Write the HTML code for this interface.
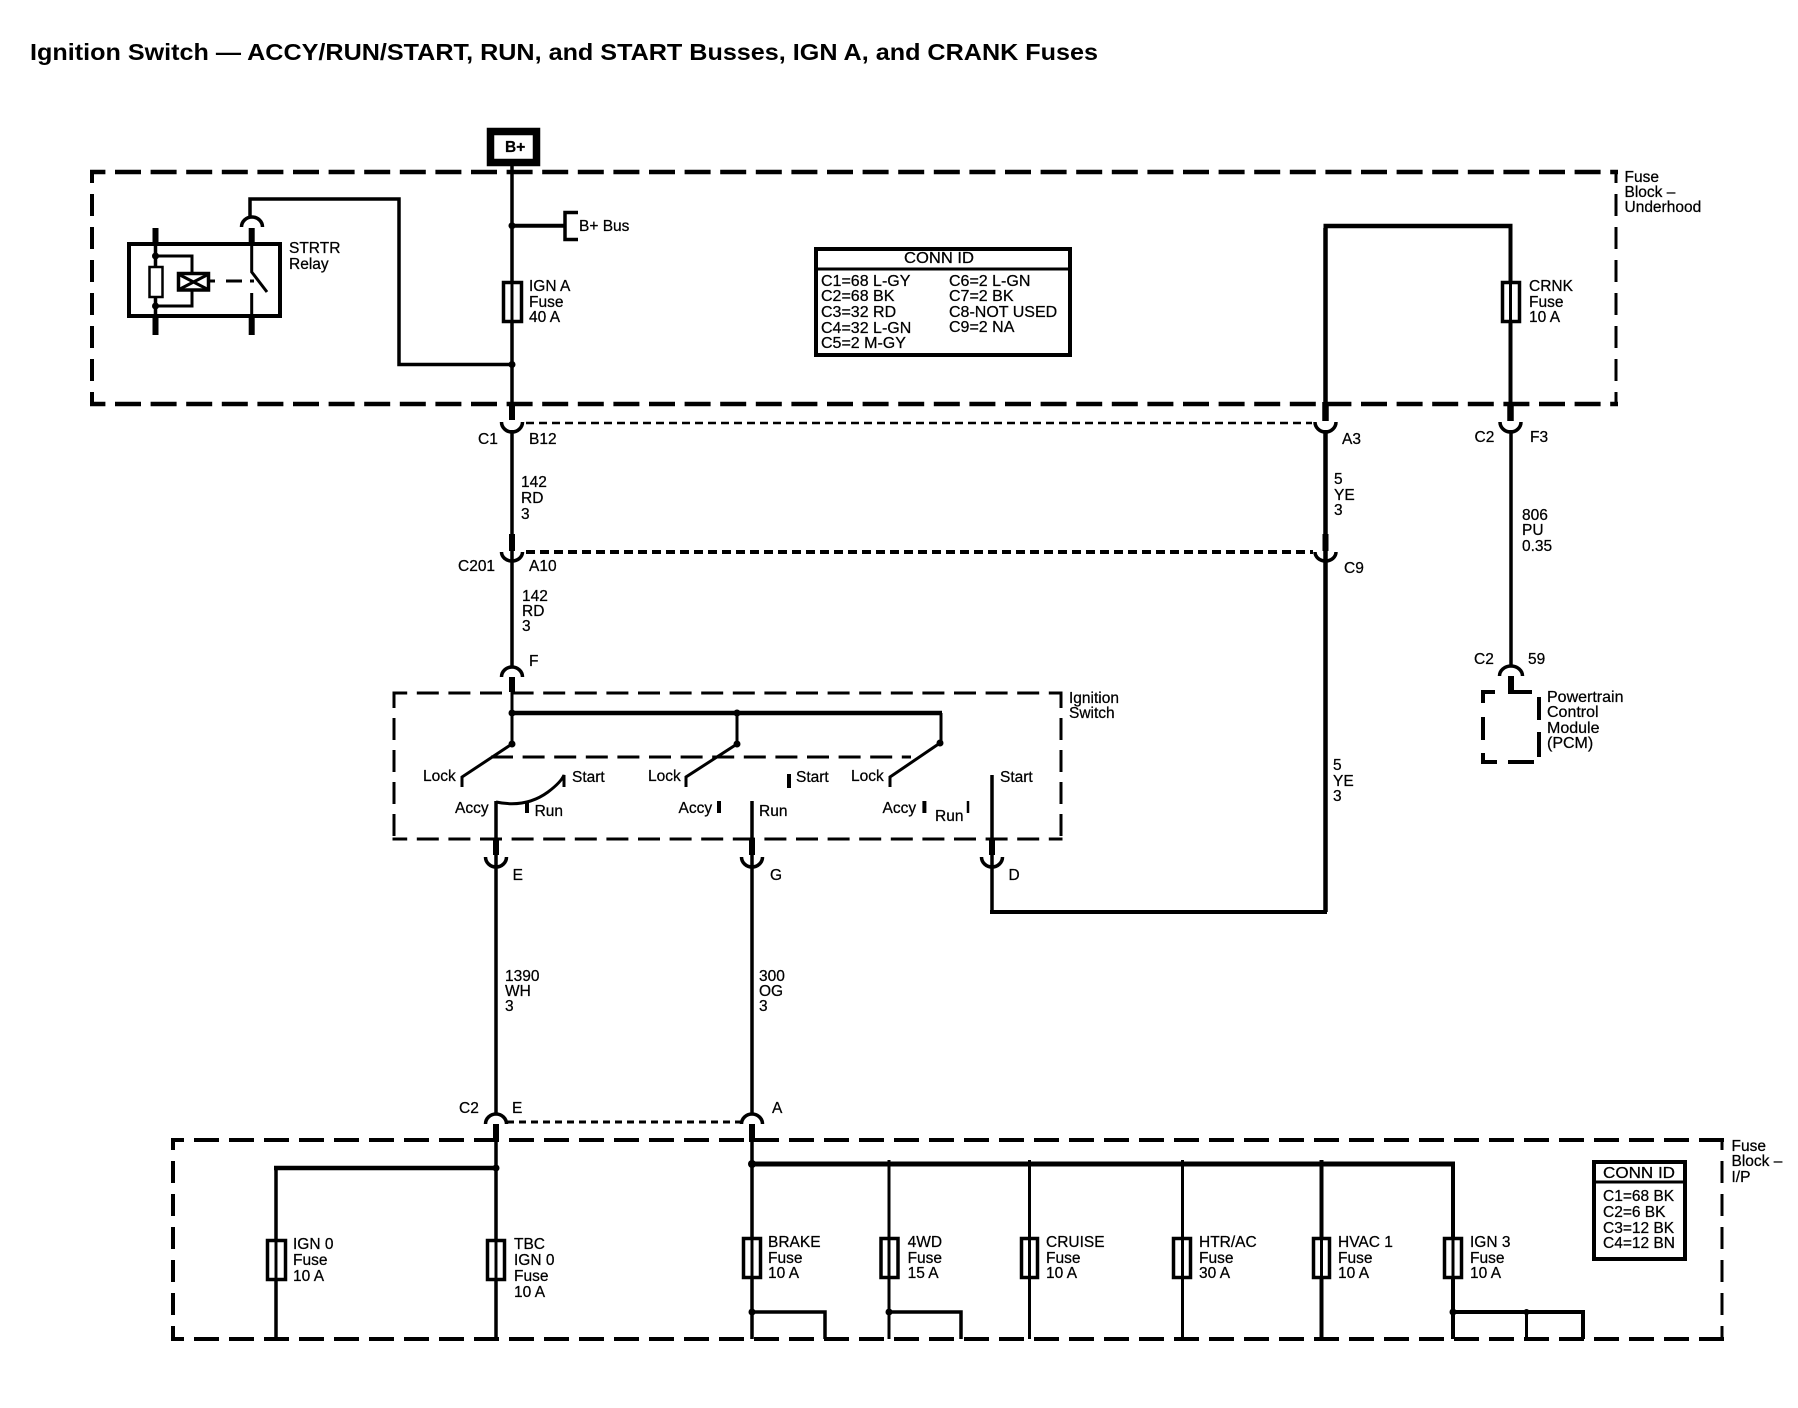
<!DOCTYPE html>
<html>
<head>
<meta charset="utf-8">
<title>Ignition Switch</title>
<style>
html,body{margin:0;padding:0;background:#fff;}
svg{display:block;}
text{font-family:"Liberation Sans",sans-serif;font-size:15.5px;fill:#000;stroke:#000;stroke-width:.25px;}
.c text{font-size:16px;}
.l{fill:none;stroke:#000;stroke-linecap:butt;stroke-linejoin:miter;}
.f{fill:#fff;stroke:#000;}
</style>
</head>
<body>
<svg width="1798" height="1408" viewBox="0 0 1798 1408" xmlns="http://www.w3.org/2000/svg">
<rect width="1798" height="1408" fill="#fff"/>
<text x="30" y="60" style="font-size:23px;font-weight:bold;stroke-width:0" textLength="1068" lengthAdjust="spacingAndGlyphs">Ignition Switch — ACCY/RUN/START, RUN, and START Busses, IGN A, and CRANK Fuses</text>

<!-- Underhood box -->
<path class="l" d="M90,172H1618" stroke-width="4.5" stroke-dasharray="26 9.6" stroke-dashoffset="10.6"/>
<path class="l" d="M90,404H1618" stroke-width="4.5" stroke-dasharray="26 9.6" stroke-dashoffset="10.6"/>
<path class="l" d="M92,172V406" stroke-width="4" stroke-dasharray="22 11" stroke-dashoffset="11"/>
<path class="l" d="M1616,172V406" stroke-width="3" stroke-dasharray="22 11" stroke-dashoffset="11"/>

<!-- B+ -->
<rect class="f" x="490.5" y="131.5" width="46" height="31" stroke-width="7.5"/>
<text x="505" y="152" style="font-weight:bold">B+</text>
<path class="l" stroke-width="3.5" d="M512,166V420"/>
<path class="l" stroke-width="6" d="M512,402V420"/>
<circle cx="512" cy="225.7" r="3.5"/>
<path class="l" stroke-width="4" d="M512,225.7H565"/>
<path class="l" stroke-width="3.5" d="M578,212.5H565V239.5H578"/>
<text x="579" y="231">B+ Bus</text>
<rect class="f" x="503.5" y="282.5" width="18" height="39" stroke-width="3.5"/>
<path class="l" stroke-width="3" d="M512,282V322"/>
<text x="529" y="291">IGN A</text><text x="529" y="307">Fuse</text><text x="529" y="322">40 A</text>
<circle cx="512" cy="364.5" r="3.5"/>
<path class="l" stroke-width="3.5" d="M512,364.5H399V199H250V217"/>

<!-- Relay -->
<rect class="l" x="129" y="244" width="151" height="72" stroke-width="4"/>
<path class="l" stroke-width="6" d="M155.5,228V246M155.5,316V335M251.7,228V246M251.7,316V335"/>
<path class="l" stroke-width="3.5" d="M155.5,244V318"/>
<path class="l" stroke-width="3" d="M251.7,244V272L267,292M251.7,293V318"/>
<path class="l" stroke-width="3.5" d="M241.5,227A10.5,10 0 0 1 262.5,227"/>
<circle cx="155.5" cy="256" r="3.5"/><circle cx="155.5" cy="306" r="3.5"/>
<path class="l" stroke-width="3" d="M155.5,256H192V272M192,291V306H155.5"/>
<rect class="f" x="149.5" y="267" width="13" height="30" stroke-width="2.5"/>
<rect class="f" x="178.5" y="273.5" width="30" height="16.5" stroke-width="3.5"/>
<path class="l" stroke-width="3" d="M180,275L207,289M207,275L180,289"/>
<path class="l" stroke-width="3" d="M210,281H215M226,281H242M250,281H254"/>
<text x="289" y="253">STRTR</text><text x="289" y="269">Relay</text>

<!-- Conn ID big -->
<rect class="f" x="816" y="249" width="254" height="106" stroke-width="4"/>
<path class="l" stroke-width="3" d="M816,269H1070"/>
<g class="c">
<text x="904" y="263" textLength="70" lengthAdjust="spacingAndGlyphs">CONN ID</text>
<text x="821" y="286">C1=68 L-GY</text><text x="821" y="301">C2=68 BK</text><text x="821" y="317">C3=32 RD</text><text x="821" y="333">C4=32 L-GN</text><text x="821" y="348">C5=2 M-GY</text>
<text x="949" y="286">C6=2 L-GN</text><text x="949" y="301">C7=2 BK</text><text x="949" y="317">C8-NOT USED</text><text x="949" y="332">C9=2 NA</text>
</g>

<!-- Right top -->
<path class="l" stroke-width="4.5" d="M1325.5,420V228M1323.5,226H1512.5"/>
<path class="l" stroke-width="4" d="M1510.5,224V420"/>
<rect class="f" x="1502.5" y="282.5" width="17" height="39" stroke-width="3.5"/>
<path class="l" stroke-width="3" d="M1510.5,282V322"/>
<text x="1529" y="291">CRNK</text><text x="1529" y="307">Fuse</text><text x="1529" y="322">10 A</text>
<text x="1624.5" y="182">Fuse</text><text x="1624.5" y="197">Block –</text><text x="1624.5" y="212">Underhood</text>
<path class="l" stroke-width="6.5" d="M1325.5,402V421M1510.5,402V421"/>

<!-- C1 row -->
<path class="l" stroke-width="3.5" d="M501.5,422A10.5,10 0 0 0 522.5,422M1315,422A10.5,10 0 0 0 1336,422M1500,422A10.5,10 0 0 0 1521,422"/>
<path class="l" stroke-width="2.5" d="M526,423H1312" stroke-dasharray="8 5"/>
<text x="478" y="444">C1</text><text x="529" y="444">B12</text><text x="1342" y="444">A3</text><text x="1474.5" y="442">C2</text><text x="1530" y="442">F3</text>
<path class="l" stroke-width="3.5" d="M512,430V666"/>
<path class="l" stroke-width="6" d="M512,534V551"/>
<text x="521" y="487">142</text><text x="521" y="503">RD</text><text x="521" y="519">3</text>
<path class="l" stroke-width="4.5" d="M1325.5,430V912"/>
<path class="l" stroke-width="6" d="M1325.5,534V551"/>
<text x="1334" y="484">5</text><text x="1334" y="500">YE</text><text x="1334" y="515">3</text>
<path class="l" stroke-width="3.5" d="M1511,430V665"/>
<text x="1522" y="520">806</text><text x="1522" y="535">PU</text><text x="1522" y="551">0.35</text>

<!-- C201 row -->
<path class="l" stroke-width="3.5" d="M501.5,552A10.5,9 0 0 0 522.5,552M1315,552A10.5,9 0 0 0 1336,552"/>
<path class="l" stroke-width="4" d="M526,552H1313" stroke-dasharray="9 5"/>
<text x="458" y="571">C201</text><text x="529" y="571">A10</text><text x="1344" y="573">C9</text>
<text x="522" y="601">142</text><text x="522" y="616">RD</text><text x="522" y="631">3</text>
<text x="1333" y="770">5</text><text x="1333" y="786">YE</text><text x="1333" y="801">3</text>

<!-- F -->
<path class="l" stroke-width="3.5" d="M501.5,677A10.5,10 0 0 1 522.5,677"/>
<path class="l" stroke-width="6" d="M512,677V692"/>
<text x="529" y="666">F</text>

<!-- PCM -->
<path class="l" stroke-width="3.5" d="M1499.5,676A11.5,10 0 0 1 1522.5,676"/>
<path class="l" stroke-width="6" d="M1511,676V694"/>
<text x="1474" y="664">C2</text><text x="1528" y="664">59</text>
<path class="l" stroke-width="4" d="M1495,692H1483V703M1508,692H1532M1483,717V740M1483,753V762H1497M1508,762H1534M1539,697V720M1539,732V757"/>
<text x="1547" y="702" style="font-size:16px">Powertrain</text><text x="1547" y="717" style="font-size:16px">Control</text><text x="1547" y="733" style="font-size:16px">Module</text><text x="1547" y="748" style="font-size:16px">(PCM)</text>

<!-- Ignition switch box -->
<path class="l" stroke-width="3" d="M392.5,693H1062.5" stroke-dasharray="22 9.6" stroke-dashoffset="7.3"/>
<path class="l" stroke-width="3" d="M392.5,839H1062.5" stroke-dasharray="22 9.6" stroke-dashoffset="7.3"/>
<path class="l" stroke-width="3" d="M394,692V840" stroke-dasharray="22 10" stroke-dashoffset="6"/>
<path class="l" stroke-width="3" d="M1061,692V840" stroke-dasharray="22 10" stroke-dashoffset="6"/>
<path class="l" stroke-width="3" d="M491,757H911" stroke-dasharray="22 9.6"/>
<text x="1069" y="703">Ignition</text><text x="1069" y="718">Switch</text>

<path class="l" stroke-width="3" d="M512,692V744"/>
<path class="l" stroke-width="4.5" d="M512,713H942"/>
<circle cx="512" cy="713" r="3.5"/><circle cx="737" cy="713" r="3.5"/>
<circle cx="512" cy="744" r="3.5"/><circle cx="737" cy="744" r="3.5"/><circle cx="940" cy="743" r="3.5"/>
<path class="l" stroke-width="3" d="M737,713V744M941,713V743"/>
<path class="l" stroke-width="3" d="M512,744L462,777V787M737,744L686,777V787M940,743L890,777V787"/>
<text x="423" y="781">Lock</text><text x="648" y="781">Lock</text><text x="851" y="781">Lock</text>
<text x="572" y="782">Start</text><text x="796" y="782">Start</text><text x="1000" y="782">Start</text>
<text x="455" y="813">Accy</text><text x="678.5" y="813">Accy</text><text x="882.5" y="813">Accy</text>
<text x="534.6" y="816">Run</text><text x="759" y="816">Run</text><text x="935" y="821">Run</text>
<path class="l" stroke-width="3" d="M496,802C515,806 533,803 548,792C556,786 562,780 564,775V787"/>
<path class="l" stroke-width="4" d="M527,801V813M719,801V813M924.4,801V813M789,774V788"/>
<path class="l" stroke-width="2.5" d="M968,801V813"/>
<path class="l" stroke-width="3.5" d="M496,801V1113M752,801V1113"/>
<path class="l" stroke-width="3.5" d="M992,775V913"/>
<path class="l" stroke-width="4" d="M990,912H1327"/>
<path class="l" stroke-width="6" d="M496,838V855M752,838V855M992,838V855"/>
<path class="l" stroke-width="3.5" d="M485.5,857A10.5,10 0 0 0 506.5,857M741.5,857A10.5,10 0 0 0 762.5,857M981.5,857A10.5,10 0 0 0 1002.5,857"/>
<text x="512.6" y="880">E</text><text x="770" y="880">G</text><text x="1008.5" y="880">D</text>
<text x="505" y="981">1390</text><text x="505" y="996">WH</text><text x="505" y="1011">3</text>
<text x="759" y="981">300</text><text x="759" y="996">OG</text><text x="759" y="1011">3</text>

<!-- C2 lower -->
<path class="l" stroke-width="3.5" d="M485.5,1124A10.5,10 0 0 1 506.5,1124M741.5,1124A10.5,10 0 0 1 762.5,1124"/>
<path class="l" stroke-width="3" d="M507,1122H742" stroke-dasharray="7 5"/>
<text x="459" y="1113">C2</text><text x="512" y="1113">E</text><text x="772" y="1113">A</text>
<path class="l" stroke-width="6" d="M496,1124V1142M752,1124V1142"/>

<!-- IP box -->
<path class="l" stroke-width="4" d="M171,1140H1724" stroke-dasharray="25 10" stroke-dashoffset="12"/>
<path class="l" stroke-width="4" d="M171,1339H1724" stroke-dasharray="25 10" stroke-dashoffset="12"/>
<path class="l" stroke-width="4" d="M173,1138V1341" stroke-dasharray="22 11" stroke-dashoffset="10"/>
<path class="l" stroke-width="3" d="M1722,1138V1341" stroke-dasharray="22 11" stroke-dashoffset="10"/>
<text x="1731.5" y="1151">Fuse</text><text x="1731.5" y="1166">Block –</text><text x="1731.5" y="1182">I/P</text>

<!-- Wires inside IP -->
<path class="l" stroke-width="3.5" d="M496,1140V1339M752,1140V1339M276,1168V1339"/>
<path class="l" stroke-width="4.5" d="M274,1168H496"/>
<circle cx="496" cy="1168" r="3.5"/>
<path class="l" stroke-width="5" d="M752,1164H1455"/>
<circle cx="752" cy="1164" r="4"/>
<path class="l" stroke-width="3" d="M889,1160V1339M1029.5,1160V1339M1182.5,1160V1339"/>
<path class="l" stroke-width="4" d="M1321.5,1160V1339M1453,1164V1339"/>

<!-- fuses -->
<rect class="f" x="267.5" y="1240.5" width="18" height="39" stroke-width="3.5"/>
<rect class="f" x="487.5" y="1240.5" width="17" height="39" stroke-width="3.5"/>
<rect class="f" x="743.5" y="1238.5" width="17" height="39" stroke-width="3.5"/>
<rect class="f" x="881" y="1238.5" width="17" height="39" stroke-width="3.5"/>
<rect class="f" x="1021.5" y="1238.5" width="16" height="39" stroke-width="3.5"/>
<rect class="f" x="1173.5" y="1238.5" width="17" height="39" stroke-width="3.5"/>
<rect class="f" x="1313.5" y="1238.5" width="16" height="39" stroke-width="3.5"/>
<rect class="f" x="1444.5" y="1238.5" width="17" height="39" stroke-width="3.5"/>
<path class="l" stroke-width="3" d="M276,1240V1281M496,1240V1281M752,1238V1278M889,1238V1278M1029.5,1238V1278M1182.5,1238V1278M1321.5,1238V1278M1453,1238V1278"/>

<text x="293" y="1249">IGN 0</text><text x="293" y="1265">Fuse</text><text x="293" y="1281">10 A</text>
<text x="514" y="1249">TBC</text><text x="514" y="1265">IGN 0</text><text x="514" y="1281">Fuse</text><text x="514" y="1297">10 A</text>
<text x="768" y="1247">BRAKE</text><text x="768" y="1263">Fuse</text><text x="768" y="1278">10 A</text>
<text x="907.6" y="1247">4WD</text><text x="907.6" y="1263">Fuse</text><text x="907.6" y="1278">15 A</text>
<text x="1046" y="1247">CRUISE</text><text x="1046" y="1263">Fuse</text><text x="1046" y="1278">10 A</text>
<text x="1199" y="1247">HTR/AC</text><text x="1199" y="1263">Fuse</text><text x="1199" y="1278">30 A</text>
<text x="1338" y="1247">HVAC 1</text><text x="1338" y="1263">Fuse</text><text x="1338" y="1278">10 A</text>
<text x="1470" y="1247">IGN 3</text><text x="1470" y="1263">Fuse</text><text x="1470" y="1278">10 A</text>

<!-- bottom stubs -->
<circle cx="752" cy="1312" r="3.5"/><circle cx="889" cy="1312" r="3.5"/><circle cx="1453" cy="1312" r="3.5"/><circle cx="1526.5" cy="1312" r="3"/>
<path class="l" stroke-width="3.5" d="M752,1312H825V1339M889,1312H961V1339"/>
<path class="l" stroke-width="4" d="M1453,1312H1583V1339"/>
<path class="l" stroke-width="3" d="M1526.5,1312V1339"/>

<!-- Conn ID small -->
<rect class="f" x="1594" y="1162" width="91" height="97" stroke-width="4"/>
<path class="l" stroke-width="3" d="M1594,1182H1685"/>
<text x="1603" y="1178" style="font-size:16px" textLength="72" lengthAdjust="spacingAndGlyphs">CONN ID</text>
<text x="1603" y="1201">C1=68 BK</text><text x="1603" y="1217">C2=6 BK</text><text x="1603" y="1233">C3=12 BK</text><text x="1603" y="1248">C4=12 BN</text>
</svg>
</body>
</html>
